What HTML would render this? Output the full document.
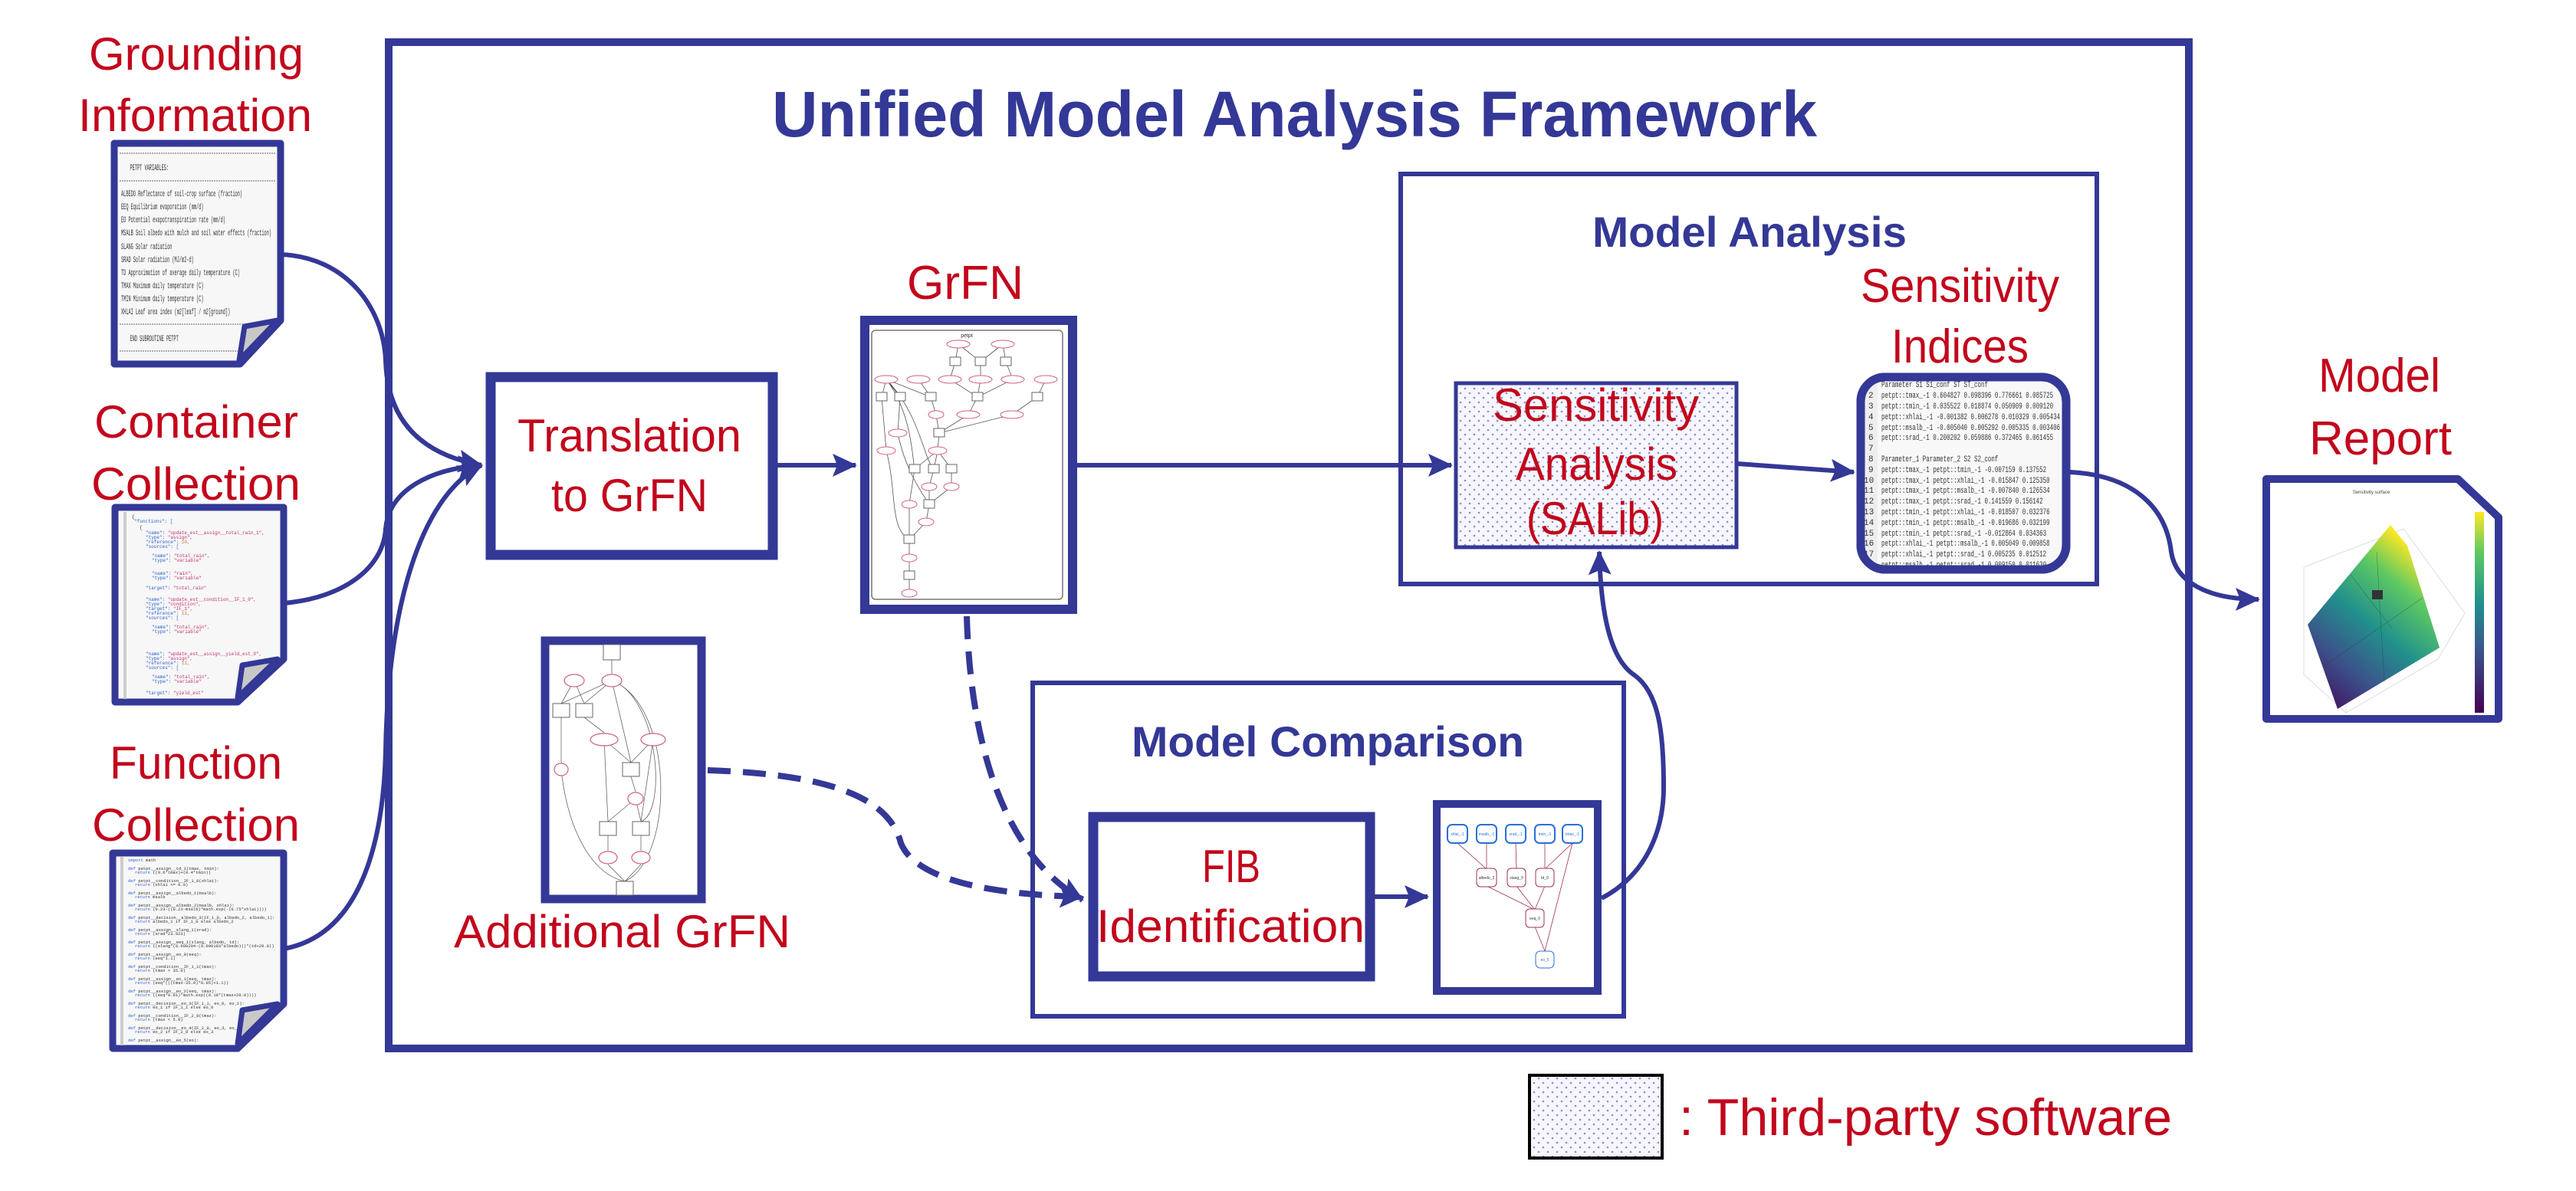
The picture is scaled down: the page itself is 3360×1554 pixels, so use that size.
<!DOCTYPE html>
<html><head><meta charset="utf-8"><style>
html,body{margin:0;padding:0;background:#fff;}
svg{display:block;}
.red{fill:#c2061c;font-family:"Liberation Sans",sans-serif;}
.blue{fill:#343896;font-family:"Liberation Sans",sans-serif;font-weight:bold;}
.mono{font-family:"Liberation Mono",monospace;fill:#333;}
</style></head><body>
<svg width="3360" height="1554" viewBox="0 0 3360 1554" xmlns="http://www.w3.org/2000/svg">
<defs>
<marker id="ah" markerUnits="userSpaceOnUse" markerWidth="34" markerHeight="34" refX="30" refY="15" orient="auto">
<path d="M0,0 L32,15 L0,30 L6,15 Z" fill="#343896"/></marker>
<pattern id="dots" width="12" height="12" patternUnits="userSpaceOnUse">
<rect width="12" height="12" fill="#f6f6fc"/><circle cx="3" cy="3" r="1.3" fill="#8c8cd8"/><circle cx="9" cy="9" r="1.3" fill="#8c8cd8"/></pattern>
<linearGradient id="vir" x1="0" y1="1" x2="0.6" y2="0">
<stop offset="0" stop-color="#440154"/><stop offset="0.3" stop-color="#3b528b"/><stop offset="0.55" stop-color="#21918c"/><stop offset="0.8" stop-color="#5ec962"/><stop offset="1" stop-color="#fde725"/></linearGradient>
<linearGradient id="cbar" x1="0" y1="1" x2="0" y2="0">
<stop offset="0" stop-color="#440154"/><stop offset="0.3" stop-color="#3b528b"/><stop offset="0.55" stop-color="#21918c"/><stop offset="0.8" stop-color="#5ec962"/><stop offset="1" stop-color="#fde725"/></linearGradient>
<clipPath id="idxclip"><rect x="2427" y="492" width="268" height="250" rx="30"/></clipPath>
</defs>

<rect x="507" y="55" width="2348" height="1313" fill="none" stroke="#343896" stroke-width="10"/>
<text class="blue" x="1007" y="178" font-size="84" textLength="1363" lengthAdjust="spacingAndGlyphs">Unified Model Analysis Framework</text>

<text class="red" x="116" y="91" font-size="60" textLength="280" lengthAdjust="spacingAndGlyphs">Grounding</text>
<text class="red" x="102" y="171" font-size="60" textLength="305" lengthAdjust="spacingAndGlyphs">Information</text>
<text class="red" x="123" y="571" font-size="60" textLength="266" lengthAdjust="spacingAndGlyphs">Container</text>
<text class="red" x="119" y="652" font-size="60" textLength="273" lengthAdjust="spacingAndGlyphs">Collection</text>
<text class="red" x="143" y="1016" font-size="60" textLength="225" lengthAdjust="spacingAndGlyphs">Function</text>
<text class="red" x="120" y="1097" font-size="60" textLength="271" lengthAdjust="spacingAndGlyphs">Collection</text>

<polygon points="149,187 366,187 366,418 313,475 149,475" fill="#f7f7f7" stroke="#343896" stroke-width="9" stroke-linejoin="round"/>
<g stroke="#666" stroke-width="1" stroke-dasharray="2,1">
<line x1="156" y1="200" x2="359" y2="200"/><line x1="156" y1="236" x2="359" y2="236"/><line x1="156" y1="423" x2="330" y2="423"/><line x1="156" y1="458" x2="310" y2="458"/></g>
<g class="mono" font-size="11" transform="translate(158,0) scale(0.48,1)">
<text x="24" y="222">PETPT VARIABLES:</text>
<text x="0" y="256">ALBEDO Reflectance of soil-crop surface (fraction)</text>
<text x="0" y="273">EEQ    Equilibrium evaporation (mm/d)</text>
<text x="0" y="290">EO     Potential evapotranspiration rate (mm/d)</text>
<text x="0" y="307">MSALB  Soil albedo with mulch and soil water effects (fraction)</text>
<text x="0" y="325">SLANG  Solar radiation</text>
<text x="0" y="342">SRAD   Solar radiation (MJ/m2-d)</text>
<text x="0" y="359">TD     Approximation of average daily temperature (C)</text>
<text x="0" y="376">TMAX   Maximum daily temperature (C)</text>
<text x="0" y="393">TMIN   Minimum daily temperature (C)</text>
<text x="0" y="410">XHLAI  Leaf area index (m2[leaf] / m2[ground])</text>
<text x="24" y="445">END SUBROUTINE PETPT</text>
</g>
<polygon points="319,426 362,418 312,470" fill="#c8c8c8" stroke="#343896" stroke-width="7" stroke-linejoin="round"/>

<polygon points="150,662 370,662 370,860 310,916 150,916" fill="#f7f7f7" stroke="#343896" stroke-width="9" stroke-linejoin="round"/>
<g font-family="Liberation Mono,monospace" font-size="6">
<text x="172" y="676" fill="#333">{</text><text x="175" y="682" fill="#2a5fd0">"functions": [</text>
<text x="182" y="690" fill="#333">{</text><text x="190" y="697" fill="#2a5fd0">"name": <tspan fill="#c03070">"update_est__assign__total_rain_1",</tspan></text>
<text x="190" y="703" fill="#2a5fd0">"type": <tspan fill="#c03070">"assign",</tspan></text>
<text x="190" y="709" fill="#2a5fd0">"reference": <tspan fill="#d07020">10,</tspan></text>
<text x="190" y="715" fill="#2a5fd0">"sources": [</text>
<text x="198" y="727" fill="#2a5fd0">"name": <tspan fill="#c03070">"total_rain",</tspan></text>
<text x="198" y="733" fill="#2a5fd0">"type": <tspan fill="#c03070">"variable"</tspan></text>
<text x="198" y="750" fill="#2a5fd0">"name": <tspan fill="#c03070">"rain",</tspan></text>
<text x="198" y="756" fill="#2a5fd0">"type": <tspan fill="#c03070">"variable"</tspan></text>
<text x="190" y="769" fill="#2a5fd0">"target": <tspan fill="#c03070">"total_rain"</tspan></text>
<text x="190" y="784" fill="#2a5fd0">"name": <tspan fill="#c03070">"update_est__condition__IF_1_0",</tspan></text>
<text x="190" y="790" fill="#2a5fd0">"type": <tspan fill="#c03070">"condition",</tspan></text>
<text x="190" y="796" fill="#2a5fd0">"target": <tspan fill="#c03070">"IF_1",</tspan></text>
<text x="190" y="802" fill="#2a5fd0">"reference": <tspan fill="#d07020">11,</tspan></text>
<text x="190" y="808" fill="#2a5fd0">"sources": [</text>
<text x="198" y="820" fill="#2a5fd0">"name": <tspan fill="#c03070">"total_rain",</tspan></text>
<text x="198" y="826" fill="#2a5fd0">"type": <tspan fill="#c03070">"variable"</tspan></text>
<text x="190" y="855" fill="#2a5fd0">"name": <tspan fill="#c03070">"update_est__assign__yield_est_0",</tspan></text>
<text x="190" y="861" fill="#2a5fd0">"type": <tspan fill="#c03070">"assign",</tspan></text>
<text x="190" y="867" fill="#2a5fd0">"reference": <tspan fill="#d07020">11,</tspan></text>
<text x="190" y="873" fill="#2a5fd0">"sources": [</text>
<text x="198" y="885" fill="#2a5fd0">"name": <tspan fill="#c03070">"total_rain",</tspan></text>
<text x="198" y="891" fill="#2a5fd0">"type": <tspan fill="#c03070">"variable"</tspan></text>
<text x="190" y="906" fill="#2a5fd0">"target": <tspan fill="#c03070">"yield_est"</tspan></text>
</g>
<line x1="163" y1="668" x2="163" y2="912" stroke="#ccc" stroke-width="4"/>
<polygon points="316,868 362,860 310,910" fill="#c8c8c8" stroke="#343896" stroke-width="7" stroke-linejoin="round"/>

<polygon points="147,1113 370,1113 370,1310 310,1368 147,1368" fill="#f7f7f7" stroke="#343896" stroke-width="9" stroke-linejoin="round"/>
<g font-family="Liberation Mono,monospace" font-size="5.5">
<text x="167" y="1124" fill="#3060d0">import <tspan fill="#333">math</tspan></text>
<text x="167" y="1135" fill="#3060d0">def <tspan fill="#333">petpt__assign__td_1(tmax, tmin):</tspan></text>
<text x="176" y="1140" fill="#3060d0">return <tspan fill="#333">((0.6*tmax)+(0.4*tmin))</tspan></text>
<text x="167" y="1151" fill="#3060d0">def <tspan fill="#333">petpt__condition__IF_1_0(xhlai):</tspan></text>
<text x="176" y="1156" fill="#3060d0">return <tspan fill="#333">(xhlai &lt;= 0.0)</tspan></text>
<text x="167" y="1167" fill="#3060d0">def <tspan fill="#333">petpt__assign__albedo_1(msalb):</tspan></text>
<text x="176" y="1172" fill="#3060d0">return <tspan fill="#333">msalb</tspan></text>
<text x="167" y="1183" fill="#3060d0">def <tspan fill="#333">petpt__assign__albedo_2(msalb, xhlai):</tspan></text>
<text x="176" y="1188" fill="#3060d0">return <tspan fill="#333">(0.23-((0.23-msalb)*math.exp(-(0.75*xhlai))))</tspan></text>
<text x="167" y="1199" fill="#3060d0">def <tspan fill="#333">petpt__decision__albedo_3(IF_1_0, albedo_2, albedo_1):</tspan></text>
<text x="176" y="1204" fill="#3060d0">return <tspan fill="#333">albedo_1 if IF_1_0 else albedo_2</tspan></text>
<text x="167" y="1215" fill="#3060d0">def <tspan fill="#333">petpt__assign__slang_1(srad):</tspan></text>
<text x="176" y="1220" fill="#3060d0">return <tspan fill="#333">(srad*23.923)</tspan></text>
<text x="167" y="1231" fill="#3060d0">def <tspan fill="#333">petpt__assign__eeq_1(slang, albedo, td):</tspan></text>
<text x="176" y="1236" fill="#3060d0">return <tspan fill="#333">((slang*(0.000204-(0.000183*albedo)))*(td+29.0))</tspan></text>
<text x="167" y="1247" fill="#3060d0">def <tspan fill="#333">petpt__assign__eo_0(eeq):</tspan></text>
<text x="176" y="1252" fill="#3060d0">return <tspan fill="#333">(eeq*1.1)</tspan></text>
<text x="167" y="1263" fill="#3060d0">def <tspan fill="#333">petpt__condition__IF_1_1(tmax):</tspan></text>
<text x="176" y="1268" fill="#3060d0">return <tspan fill="#333">(tmax &gt; 35.0)</tspan></text>
<text x="167" y="1279" fill="#3060d0">def <tspan fill="#333">petpt__assign__eo_1(eeq, tmax):</tspan></text>
<text x="176" y="1284" fill="#3060d0">return <tspan fill="#333">(eeq*(((tmax-35.0)*0.05)+1.1))</tspan></text>
<text x="167" y="1295" fill="#3060d0">def <tspan fill="#333">petpt__assign__eo_2(eeq, tmax):</tspan></text>
<text x="176" y="1300" fill="#3060d0">return <tspan fill="#333">((eeq*0.01)*math.exp((0.18*(tmax+20.0))))</tspan></text>
<text x="167" y="1311" fill="#3060d0">def <tspan fill="#333">petpt__decision__eo_3(IF_1_1, eo_0, eo_1):</tspan></text>
<text x="176" y="1316" fill="#3060d0">return <tspan fill="#333">eo_1 if IF_1_1 else eo_0</tspan></text>
<text x="167" y="1327" fill="#3060d0">def <tspan fill="#333">petpt__condition__IF_2_0(tmax):</tspan></text>
<text x="176" y="1332" fill="#3060d0">return <tspan fill="#333">(tmax &lt; 5.0)</tspan></text>
<text x="167" y="1343" fill="#3060d0">def <tspan fill="#333">petpt__decision__eo_4(IF_2_0, eo_3, eo_2):</tspan></text>
<text x="176" y="1348" fill="#3060d0">return <tspan fill="#333">eo_2 if IF_2_0 else eo_3</tspan></text>
<text x="167" y="1359" fill="#3060d0">def <tspan fill="#333">petpt__assign__eo_5(eo):</tspan></text>
</g>
<line x1="159" y1="1118" x2="159" y2="1364" stroke="#ccc" stroke-width="4"/>
<polygon points="316,1318 362,1310 310,1362" fill="#c8c8c8" stroke="#343896" stroke-width="7" stroke-linejoin="round"/>

<g fill="none" stroke="#343896" stroke-width="6">
<path d="M366,332 C450,335 500,400 503,470 C505,545 545,592 628,607" marker-end="url(#ah)"/>
<path d="M370,787 C450,780 500,740 503,690 C507,640 560,612 628,607" marker-end="url(#ah)"/>
<path d="M370,1238 C470,1220 500,1100 503,980 C506,800 545,650 628,607" marker-end="url(#ah)"/>
<path d="M1011,607 L1116,607" marker-end="url(#ah)"/>
<path d="M1404,607 L1893,607" marker-end="url(#ah)"/>
<path d="M2266,605 L2418,616" marker-end="url(#ah)"/>
<path d="M2700,616 C2780,620 2825,660 2832,720 C2838,760 2880,782 2946,782" marker-end="url(#ah)"/>
<path d="M1793,1170 L1862,1170" marker-end="url(#ah)"/>
<path d="M2089,1172 C2150,1140 2170,1080 2170,1027 C2170,960 2165,905 2132,881 C2100,860 2088,800 2086,720" marker-end="url(#ah)"/>
<path d="M1261,804 C1265,950 1300,1110 1412,1174" stroke-width="8" stroke-dasharray="30,16" marker-end="url(#ah)"/>
<path d="M923,1005 C1080,1010 1160,1040 1175,1100 C1195,1150 1300,1168 1412,1170" stroke-width="8" stroke-dasharray="30,16" marker-end="url(#ah)"/>
</g>

<rect x="640" y="492" width="368" height="232" fill="#fff" stroke="#343896" stroke-width="13"/>
<text class="red" x="675" y="589" font-size="60" textLength="292" lengthAdjust="spacingAndGlyphs">Translation</text>
<text class="red" x="719" y="667" font-size="60" textLength="204" lengthAdjust="spacingAndGlyphs">to GrFN</text>

<text class="red" x="1183" y="390" font-size="62" textLength="152" lengthAdjust="spacingAndGlyphs">GrFN</text>
<rect x="1128" y="418" width="271" height="377" fill="#fff" stroke="#343896" stroke-width="12"/>
<rect x="1137" y="431" width="249" height="351" rx="5" fill="#fff" stroke="#777" stroke-width="1.5"/>
<text x="1261" y="440" font-size="7" text-anchor="middle" font-family="Liberation Sans,sans-serif" fill="#333">petpt</text>
<g stroke="#555" stroke-width="0.8" fill="none">
<path d="M1250,449 L1246,472 M1250,449 L1279,472 M1308,449 L1279,472 M1308,449 L1312,472 M1246,472 L1239,495 M1279,472 L1279,495 M1312,472 L1321,495 M1156,495 L1150,518 M1156,495 L1174,518 M1156,495 L1214,518 M1198,495 L1214,518 M1239,495 L1275,518 M1279,495 L1275,518 M1321,495 L1275,518 M1364,495 L1353,518 M1214,518 L1221,541 M1275,518 L1263,541 M1353,518 L1320,541 M1221,541 L1225,565 M1263,541 L1225,565 M1320,541 L1225,565 M1174,518 L1171,565 M1150,518 L1156,588 M1225,565 L1223,588 M1223,588 L1193,612 M1223,588 L1218,612 M1223,588 L1241,612 M1156,495 C1190,540 1190,600 1193,612 M1156,495 C1200,540 1205,600 1218,612 M1193,612 L1186,658 M1218,612 L1212,635 M1241,612 L1241,635 M1212,635 L1212,658 M1241,635 L1212,658 M1171,565 C1180,610 1200,640 1212,658 M1212,658 L1208,681 M1156,588 C1170,640 1160,690 1186,704 M1186,658 L1186,704 M1208,681 L1186,704 M1186,704 L1186,728 M1186,728 L1186,751 M1186,751 L1186,774"/>
</g>
<g fill="#fff" stroke="#d0607a" stroke-width="1">
<ellipse cx="1250" cy="449" rx="15" ry="5"/><ellipse cx="1308" cy="449" rx="15" ry="5"/>
<ellipse cx="1156" cy="495" rx="15" ry="5"/><ellipse cx="1198" cy="495" rx="15" ry="5"/><ellipse cx="1239" cy="495" rx="15" ry="5"/><ellipse cx="1279" cy="495" rx="15" ry="5"/><ellipse cx="1321" cy="495" rx="15" ry="5"/><ellipse cx="1364" cy="495" rx="15" ry="5"/>
<ellipse cx="1221" cy="541" rx="10" ry="5"/><ellipse cx="1263" cy="541" rx="15" ry="5"/><ellipse cx="1320" cy="541" rx="15" ry="5"/>
<ellipse cx="1171" cy="565" rx="12" ry="5"/><ellipse cx="1156" cy="588" rx="12" ry="5"/><ellipse cx="1223" cy="588" rx="12" ry="5"/>
<ellipse cx="1212" cy="635" rx="10" ry="5"/><ellipse cx="1241" cy="635" rx="10" ry="5"/><ellipse cx="1186" cy="658" rx="10" ry="5"/><ellipse cx="1208" cy="681" rx="10" ry="5"/><ellipse cx="1186" cy="728" rx="10" ry="5"/><ellipse cx="1186" cy="774" rx="10" ry="5"/>
</g>
<g fill="#fff" stroke="#666" stroke-width="1">
<rect x="1239" y="466" width="14" height="11"/><rect x="1272" y="466" width="14" height="11"/><rect x="1305" y="466" width="14" height="11"/>
<rect x="1143" y="512" width="14" height="11"/><rect x="1167" y="512" width="14" height="11"/><rect x="1207" y="512" width="14" height="11"/><rect x="1268" y="512" width="14" height="11"/><rect x="1346" y="512" width="14" height="11"/>
<rect x="1218" y="559" width="14" height="11"/><rect x="1186" y="606" width="14" height="11"/><rect x="1211" y="606" width="14" height="11"/><rect x="1234" y="606" width="14" height="11"/>
<rect x="1205" y="652" width="14" height="11"/><rect x="1179" y="698" width="14" height="11"/><rect x="1179" y="745" width="14" height="11"/>
</g>

<rect x="711" y="836" width="204" height="337" fill="#fff" stroke="#343896" stroke-width="11"/>
<g stroke="#666" stroke-width="0.8" fill="none">
<path d="M798,861 L798,879 M749,888 L732,918 M749,888 L762,918 M798,888 L732,918 M798,888 L762,918 M762,936 L788,956 M798,888 L823,995 M788,965 L823,995 M852,965 L823,995 M732,936 L732,995 M732,1004 C740,1080 770,1140 815,1150 M823,1013 L829,1033 M788,965 L793,1072 M829,1042 L836,1072 M829,1042 L793,1072 M852,965 L836,1072 M798,888 C860,910 870,1060 836,1072 M798,888 C880,920 880,1120 815,1150 M793,1090 L793,1110 M836,1090 L836,1110 M793,1128 L815,1150 M836,1128 L815,1150"/>
</g>
<g fill="#fff" stroke="#d0607a" stroke-width="1.2">
<ellipse cx="749" cy="888" rx="13" ry="8"/><ellipse cx="798" cy="888" rx="13" ry="8"/><ellipse cx="788" cy="965" rx="18" ry="8"/><ellipse cx="852" cy="965" rx="16" ry="8"/><ellipse cx="732" cy="1004" rx="9" ry="8"/><ellipse cx="829" cy="1042" rx="10" ry="8"/><ellipse cx="793" cy="1119" rx="12" ry="8"/><ellipse cx="836" cy="1119" rx="12" ry="8"/>
</g>
<g fill="#fff" stroke="#666" stroke-width="1">
<rect x="787" y="841" width="22" height="20"/><rect x="721" y="918" width="22" height="18"/><rect x="751" y="918" width="22" height="18"/><rect x="812" y="995" width="22" height="18"/><rect x="782" y="1072" width="22" height="18"/><rect x="825" y="1072" width="22" height="18"/><rect x="804" y="1150" width="22" height="18"/>
</g>
<text class="red" x="592" y="1236" font-size="60" textLength="439" lengthAdjust="spacingAndGlyphs">Additional GrFN</text>

<rect x="1827" y="227" width="908" height="535" fill="none" stroke="#343896" stroke-width="6"/>
<text class="blue" x="2077" y="322" font-size="56" textLength="410" lengthAdjust="spacingAndGlyphs">Model Analysis</text>
<text class="red" x="2427" y="394" font-size="62" textLength="259" lengthAdjust="spacingAndGlyphs">Sensitivity</text>
<text class="red" x="2467" y="473" font-size="62" textLength="179" lengthAdjust="spacingAndGlyphs">Indices</text>
<rect x="1899" y="500" width="366" height="214" fill="url(#dots)" stroke="#343896" stroke-width="5"/>
<text class="red" x="1947" y="549" font-size="60" textLength="269" lengthAdjust="spacingAndGlyphs">Sensitivity</text>
<text class="red" x="1977" y="626" font-size="60" textLength="211" lengthAdjust="spacingAndGlyphs">Analysis</text>
<text class="red" x="1991" y="697" font-size="60" textLength="179" lengthAdjust="spacingAndGlyphs">(SALib)</text>

<rect x="2427" y="492" width="268" height="251" rx="32" fill="#f8f8f8" stroke="#343896" stroke-width="11"/>
<g clip-path="url(#idxclip)">
<rect x="2427" y="492" width="22" height="251" fill="#eee"/>
<g class="mono" font-size="11" fill="#777">
<text x="2437" y="519">2</text><text x="2437" y="533">3</text><text x="2437" y="547">4</text><text x="2437" y="561">5</text><text x="2437" y="574">6</text><text x="2437" y="588">7</text><text x="2437" y="602">8</text><text x="2437" y="616">9</text><text x="2431" y="630">10</text><text x="2431" y="643">11</text><text x="2431" y="657">12</text><text x="2431" y="671">13</text><text x="2431" y="685">14</text><text x="2431" y="699">15</text><text x="2431" y="712">16</text><text x="2431" y="726">17</text></g>
<g class="mono" font-size="11" transform="translate(2454,0) scale(0.68,1)">
<text x="0" y="505">Parameter S1 S1_conf ST ST_conf</text>
<text x="0" y="519">petpt::tmax_-1 0.604827 0.098396 0.776661 0.085725</text>
<text x="0" y="533">petpt::tmin_-1 0.035522 0.018874 0.050909 0.009120</text>
<text x="0" y="547">petpt::xhlai_-1 -0.001382 0.006278 0.010329 0.005434</text>
<text x="0" y="561">petpt::msalb_-1 -0.005040 0.005292 0.005335 0.003406</text>
<text x="0" y="574">petpt::srad_-1 0.200202 0.059886 0.372465 0.061455</text>
<text x="0" y="602">Parameter_1 Parameter_2 S2 S2_conf</text>
<text x="0" y="616">petpt::tmax_-1 petpt::tmin_-1 -0.007159 0.137552</text>
<text x="0" y="630">petpt::tmax_-1 petpt::xhlai_-1 -0.015847 0.125350</text>
<text x="0" y="643">petpt::tmax_-1 petpt::msalb_-1 -0.007840 0.126534</text>
<text x="0" y="657">petpt::tmax_-1 petpt::srad_-1 0.141559 0.156142</text>
<text x="0" y="671">petpt::tmin_-1 petpt::xhlai_-1 -0.018507 0.032376</text>
<text x="0" y="685">petpt::tmin_-1 petpt::msalb_-1 -0.019686 0.032199</text>
<text x="0" y="699">petpt::tmin_-1 petpt::srad_-1 -0.012864 0.034363</text>
<text x="0" y="712">petpt::xhlai_-1 petpt::msalb_-1 0.005049 0.009858</text>
<text x="0" y="726">petpt::xhlai_-1 petpt::srad_-1 0.005235 0.012512</text>
<text x="0" y="740">petpt::msalb_-1 petpt::srad_-1 0.009150 0.011630</text>
</g></g>
<rect x="2427" y="492" width="268" height="251" rx="32" fill="none" stroke="#343896" stroke-width="11"/>

<text class="red" x="3024" y="511" font-size="62" textLength="159" lengthAdjust="spacingAndGlyphs">Model</text>
<text class="red" x="3012" y="593" font-size="62" textLength="186" lengthAdjust="spacingAndGlyphs">Report</text>
<polygon points="2956,625 3206,625 3259,675 3259,938 2956,938" fill="#fff" stroke="#343896" stroke-width="10" stroke-linejoin="round"/>
<text x="3093" y="644" font-size="6" text-anchor="middle" font-family="Liberation Sans,sans-serif" fill="#444">Sensitivity surface</text>
<g stroke="#ddd" stroke-width="1" fill="none"><path d="M3005,740 L3005,880 L3060,930 L3180,860 M3060,930 L3060,760 M3005,740 L3135,690 L3215,800 L3180,860"/></g>
<polygon points="3010,815 3118,685 3140,712 3182,845 3049,925" fill="url(#vir)"/>
<g stroke="#333" stroke-width="0.6" opacity="0.5" fill="none"><path d="M3066,750 L3120,820 M3030,870 L3160,780 M3100,720 L3110,890"/></g>
<rect x="3094" y="770" width="14" height="12" fill="#333"/>
<rect x="3228" y="668" width="12" height="262" fill="url(#cbar)"/>

<rect x="1347" y="891" width="771" height="435" fill="none" stroke="#343896" stroke-width="6"/>
<text class="blue" x="1476" y="987" font-size="56" textLength="512" lengthAdjust="spacingAndGlyphs">Model Comparison</text>
<rect x="1426" y="1066" width="361" height="208" fill="#fff" stroke="#343896" stroke-width="13"/>
<text class="red" x="1568" y="1151" font-size="60" textLength="76" lengthAdjust="spacingAndGlyphs">FIB</text>
<text class="red" x="1430" y="1229" font-size="60" textLength="350" lengthAdjust="spacingAndGlyphs">Identification</text>
<rect x="1874" y="1049" width="210" height="244" fill="#fff" stroke="#343896" stroke-width="10"/>
<g stroke="#a03050" stroke-width="0.8" fill="none"><path d="M1901,1100 L1939,1134 M1939,1100 L1939,1134 M1977,1100 L1978,1134 M2015,1100 L2015,1134 M2051,1100 L2015,1134 M1939,1156 L2002,1187 M1978,1156 L2002,1187 M2015,1156 L2002,1187 M2002,1209 L2015,1241 M2051,1100 L2015,1241"/></g>
<g fill="#fff" stroke="#2a6fd6" stroke-width="2">
<rect x="1888" y="1076" width="26" height="24" rx="6"/><rect x="1926" y="1076" width="26" height="24" rx="6"/><rect x="1964" y="1076" width="26" height="24" rx="6"/><rect x="2002" y="1076" width="26" height="24" rx="6"/><rect x="2038" y="1076" width="26" height="24" rx="6"/>
<rect x="2003" y="1241" width="24" height="22" rx="6" stroke-width="1"/></g>
<g fill="#fff" stroke="#a03050" stroke-width="1">
<rect x="1926" y="1133" width="26" height="24" rx="5"/><rect x="1966" y="1133" width="24" height="24" rx="5"/><rect x="2003" y="1133" width="24" height="24" rx="5"/><rect x="1990" y="1186" width="24" height="24" rx="5"/></g>
<g font-family="Liberation Sans,sans-serif" font-size="5" text-anchor="middle">
<text x="1901" y="1090" fill="#2a6fd6">xhlai_-1</text><text x="1939" y="1090" fill="#2a6fd6">msalb_-1</text><text x="1977" y="1090" fill="#2a6fd6">srad_-1</text><text x="2015" y="1090" fill="#2a6fd6">tmin_-1</text><text x="2051" y="1090" fill="#2a6fd6">tmax_-1</text>
<text x="1939" y="1147" fill="#333">albedo_2</text><text x="1978" y="1147" fill="#333">slang_0</text><text x="2015" y="1147" fill="#333">td_0</text><text x="2002" y="1200" fill="#333">eeq_0</text><text x="2015" y="1254" fill="#2a6fd6">eo_5</text></g>

<rect x="1995" y="1403" width="173" height="108" fill="url(#dots)" stroke="#000" stroke-width="4"/>
<text class="red" x="2190" y="1481" font-size="68" textLength="643" lengthAdjust="spacingAndGlyphs">: Third-party software</text>
</svg>
</body></html>
